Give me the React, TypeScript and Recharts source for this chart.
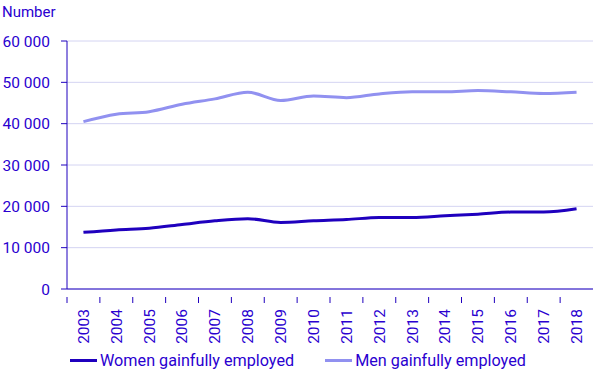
import React from 'react';
import { LineChart, Line, XAxis, YAxis, CartesianGrid } from 'recharts';

const years = ['2003', '2004', '2005', '2006', '2007', '2008', '2009', '2010', '2011', '2012', '2013', '2014', '2015', '2016', '2017', '2018'];
const women = [13700, 14300, 14700, 15600, 16500, 17000, 16100, 16500, 16800, 17300, 17300, 17700, 18100, 18600, 18600, 19400];
const men = [40500, 42300, 42900, 44700, 46000, 47600, 45600, 46700, 46300, 47200, 47700, 47700, 48000, 47700, 47300, 47600];
const yTicks = [0, 10000, 20000, 30000, 40000, 50000, 60000];

const SERIES = [
    { key: 'women', label: 'Women gainfully employed', color: '#1f00be' },
    { key: 'men', label: 'Men gainfully employed', color: '#9191f0' },
];

const TEXT = '#2a00d0';
const AXIS = '#1f00be';
const FONT = 'Roboto, "Liberation Sans", Arial, sans-serif';

const W = 593;
const H = 384;
const LEFT = 67;
const TOP = 41;
const PLOT_BOTTOM = 289;

const data = years.map((year, i) => ({ year, women: women[i], men: men[i] }));
const halfBand = (W - LEFT) / years.length / 2;

const fmt = (v: number) => String(v).replace(/\B(?=(\d{3})+(?!\d))/g, ' ');

function YearTick(props: any) {
    const { x, y, payload } = props;
    const ty = y + 12;
    return (
        <g>
            <line x1={x - halfBand} x2={x - halfBand} y1={y} y2={y + 6} stroke={AXIS} strokeWidth={1} />
            <text
                x={x}
                y={ty}
                transform={`rotate(-90, ${x}, ${ty})`}
                textAnchor="end"
                dy="0.35em"
                fill={TEXT}
                fontSize={15.5}
                fontFamily={FONT}
            >
                {payload.value}
            </text>
        </g>
    );
}

export default function App() {
    return (
        <div style={{ position: 'absolute', left: 0, top: 0, width: W, height: H, background: '#fff', fontFamily: FONT }}>
            <div style={{ position: 'absolute', left: 2, top: 3, fontSize: 15, color: TEXT }}>Number</div>
            <LineChart width={W} height={H} data={data} margin={{ top: TOP, right: 0, left: 0, bottom: H - PLOT_BOTTOM - 60 }}>
                <CartesianGrid vertical={false} stroke="#d4d4f2" strokeWidth={1} />
                <XAxis
                    dataKey="year"
                    height={60}
                    padding={{ left: halfBand, right: halfBand }}
                    axisLine={{ stroke: AXIS, strokeWidth: 1 }}
                    tickLine={false}
                    tick={<YearTick />}
                    interval={0}
                />
                <YAxis
                    width={LEFT}
                    domain={[0, 60000]}
                    ticks={yTicks}
                    tickFormatter={fmt}
                    axisLine={{ stroke: AXIS, strokeWidth: 1 }}
                    tickLine={{ stroke: AXIS, strokeWidth: 1 }}
                    tickSize={6}
                    tickMargin={11}
                    tick={{ fill: TEXT, fontSize: 15.5, fontFamily: FONT }}
                />
                {SERIES.map(s => (
                    <Line
                        key={s.key}
                        type="monotone"
                        dataKey={s.key}
                        stroke={s.color}
                        strokeWidth={3}
                        dot={false}
                        activeDot={false}
                        isAnimationActive={false}
                    />
                ))}
            </LineChart>
            {/* Legend */}
            <div style={{ position: 'absolute', left: 70, top: 351, display: 'flex', alignItems: 'center', gap: 31 }}>
                {SERIES.map(s => (
                    <div key={s.key} style={{ display: 'flex', alignItems: 'center', gap: 3 }}>
                        <div style={{ width: 27, height: 3, background: s.color }} />
                        <span style={{ fontSize: 16.2, color: TEXT }}>{s.label}</span>
                    </div>
                ))}
            </div>
        </div>
    );
}
